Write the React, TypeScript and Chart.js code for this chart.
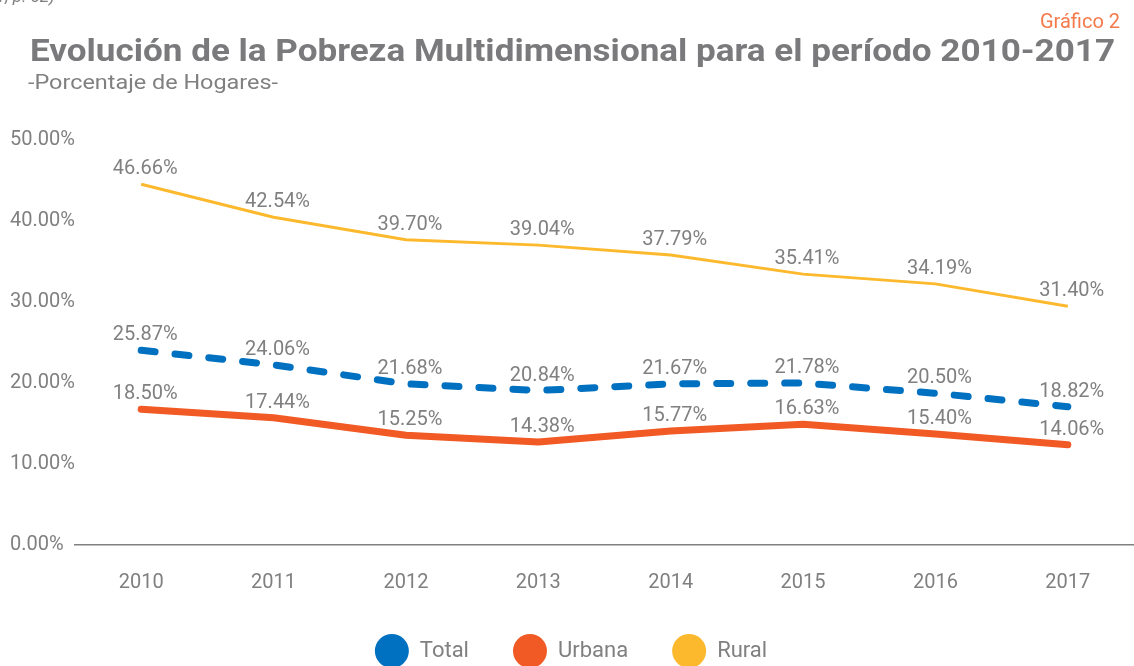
import React, { useEffect, useRef } from "react";
import { Chart, registerables } from "chart.js";

Chart.register(...registerables);

const years = ["2010", "2011", "2012", "2013", "2014", "2015", "2016", "2017"];
const totalValues = [25.87, 24.06, 21.68, 20.84, 21.67, 21.78, 20.5, 18.82];
const urbanaValues = [18.5, 17.44, 15.25, 14.38, 15.77, 16.63, 15.4, 14.06];
const ruralValues = [46.66, 42.54, 39.7, 39.04, 37.79, 35.41, 34.19, 31.4];
const yTickValues = [0, 10, 20, 30, 40, 50];

const seriesNames = ["Total", "Urbana", "Rural"];
const seriesColors = ["#0070C0", "#F15A24", "#FDB92D"];

const titleText = "Evolución de la Pobreza Multidimensional para el período 2010-2017";
const subtitleText = "-Porcentaje de Hogares-";
const chartTag = "Gráfico 2";
const sourceFragment = "1, p. 52)";

const FONT = "Roboto, 'DejaVu Sans', sans-serif";
const GRAY = "#808080";

function fillStretched(ctx: any, text: string, x: number, y: number, targetWidth: number) {
  const w = ctx.measureText(text).width;
  const sx = targetWidth / w;
  ctx.save();
  ctx.translate(x, y);
  ctx.scale(sx, 1);
  ctx.fillText(text, 0, 0);
  ctx.restore();
}

const headerPlugin = {
  id: "header",
  beforeDraw(chart: any) {
    const ctx = chart.ctx;
    ctx.save();
    ctx.fillStyle = "#ffffff";
    ctx.fillRect(0, 0, chart.width, chart.height);
    ctx.textBaseline = "alphabetic";
    // cut-off source text at the very top
    ctx.fillStyle = GRAY;
    ctx.font = `italic 17px ${FONT}`;
    ctx.textAlign = "left";
    ctx.fillText(sourceFragment, -4, 2);
    // tag
    ctx.fillStyle = "#F47A4B";
    ctx.font = `20px ${FONT}`;
    ctx.textAlign = "right";
    ctx.fillText(chartTag, 1120, 28);
    // title
    ctx.fillStyle = "#7a7a7c";
    ctx.font = `bold 32px ${FONT}`;
    ctx.textAlign = "left";
    fillStretched(ctx, titleText, 30, 61, 1085);
    // subtitle
    ctx.fillStyle = GRAY;
    ctx.font = `20px ${FONT}`;
    fillStretched(ctx, subtitleText, 28, 89, 250);
    ctx.restore();
  },
};

const dataLabelPlugin = {
  id: "dataLabels",
  afterDatasetsDraw(chart: any) {
    const ctx = chart.ctx;
    ctx.save();
    ctx.font = `20px ${FONT}`;
    ctx.fillStyle = GRAY;
    ctx.textAlign = "center";
    ctx.textBaseline = "middle";
    chart.data.datasets.forEach((ds: any, di: number) => {
      const meta = chart.getDatasetMeta(di);
      meta.data.forEach((pt: any, i: number) => {
        const v = ds.data[i] as number;
        ctx.fillText(v.toFixed(2) + "%", pt.x + 4, pt.y - 15);
      });
    });
    ctx.restore();
  },
};

const legendPlugin = {
  id: "customLegend",
  afterDraw(chart: any) {
    const ctx = chart.ctx;
    ctx.save();
    ctx.font = `22px ${FONT}`;
    const r = 17;
    const gapText = 11;
    const gapItem = 44;
    const widths = seriesNames.map((n) => ctx.measureText(n).width);
    const total =
      widths.reduce((a, w) => a + 2 * r + gapText + w, 0) + gapItem * (seriesNames.length - 1);
    let x = chart.width / 2 + 4 - total / 2;
    const cy = 651;
    ctx.textBaseline = "middle";
    ctx.textAlign = "left";
    seriesNames.forEach((n, i) => {
      ctx.fillStyle = seriesColors[i];
      ctx.beginPath();
      ctx.arc(x + r, cy, r, 0, Math.PI * 2);
      ctx.fill();
      ctx.fillStyle = GRAY;
      ctx.fillText(n, x + 2 * r + gapText, cy);
      x += 2 * r + gapText + widths[i] + gapItem;
    });
    ctx.restore();
  },
};

export default function App() {
  const canvasRef = useRef<HTMLCanvasElement | null>(null);

  useEffect(() => {
    if (!canvasRef.current) return;
    const chart = new Chart(canvasRef.current, {
      type: "line",
      data: {
        labels: years,
        datasets: [
          {
            label: seriesNames[2],
            data: ruralValues,
            borderColor: seriesColors[2],
            backgroundColor: seriesColors[2],
            borderWidth: 3,
            pointRadius: 0,
            tension: 0,
            yAxisID: "yData",
          },
          {
            label: seriesNames[0],
            data: totalValues,
            borderColor: seriesColors[0],
            backgroundColor: seriesColors[0],
            borderWidth: 7,
            borderDash: [14, 20],
            borderCapStyle: "round",
            pointRadius: 0,
            tension: 0,
            yAxisID: "yData",
          },
          {
            label: seriesNames[1],
            data: urbanaValues,
            borderColor: seriesColors[1],
            backgroundColor: seriesColors[1],
            borderWidth: 7,
            borderCapStyle: "round",
            borderJoinStyle: "round",
            pointRadius: 0,
            tension: 0,
            yAxisID: "yData",
          },
        ],
      },
      options: {
        animation: false,
        responsive: false,
        maintainAspectRatio: false,
        layout: { padding: { left: 10, top: 140, right: 0, bottom: 0 } },
        plugins: {
          legend: { display: false },
          title: { display: false },
          tooltip: { enabled: false },
        },
        scales: {
          x: {
            type: "category",
            offset: true,
            grid: { display: false, drawTicks: false },
            border: { display: true, color: GRAY, width: 1.5 },
            ticks: {
              color: GRAY,
              font: { family: FONT, size: 20 },
              padding: 26,
              maxRotation: 0,
            },
            afterFit: (s: any) => {
              s.height = 121;
            },
          },
          y: {
            position: "left",
            min: yTickValues[0],
            max: yTickValues[yTickValues.length - 1],
            afterBuildTicks: (s: any) => {
              s.ticks = yTickValues.map((v) => ({ value: v }));
            },
            grid: { display: false, drawTicks: false },
            border: { display: false },
            ticks: {
              color: GRAY,
              font: { family: FONT, size: 20 },
              crossAlign: "far",
              padding: 0,
              callback: (v: any) => Number(v).toFixed(2) + "%",
            },
            afterFit: (s: any) => {
              s.width = 65;
            },
          },
          yData: {
            display: false,
            position: "left",
            min: 1.5,
            max: 52.2,
          },
        },
      },
      plugins: [headerPlugin, dataLabelPlugin, legendPlugin],
    } as any);
    return () => chart.destroy();
  }, []);

  return (
    <div style={{ position: "fixed", left: 0, top: 0, width: 1134, height: 666, background: "#fff" }}>
      <canvas ref={canvasRef} width={1134} height={666} style={{ display: "block" }} />
    </div>
  );
}
